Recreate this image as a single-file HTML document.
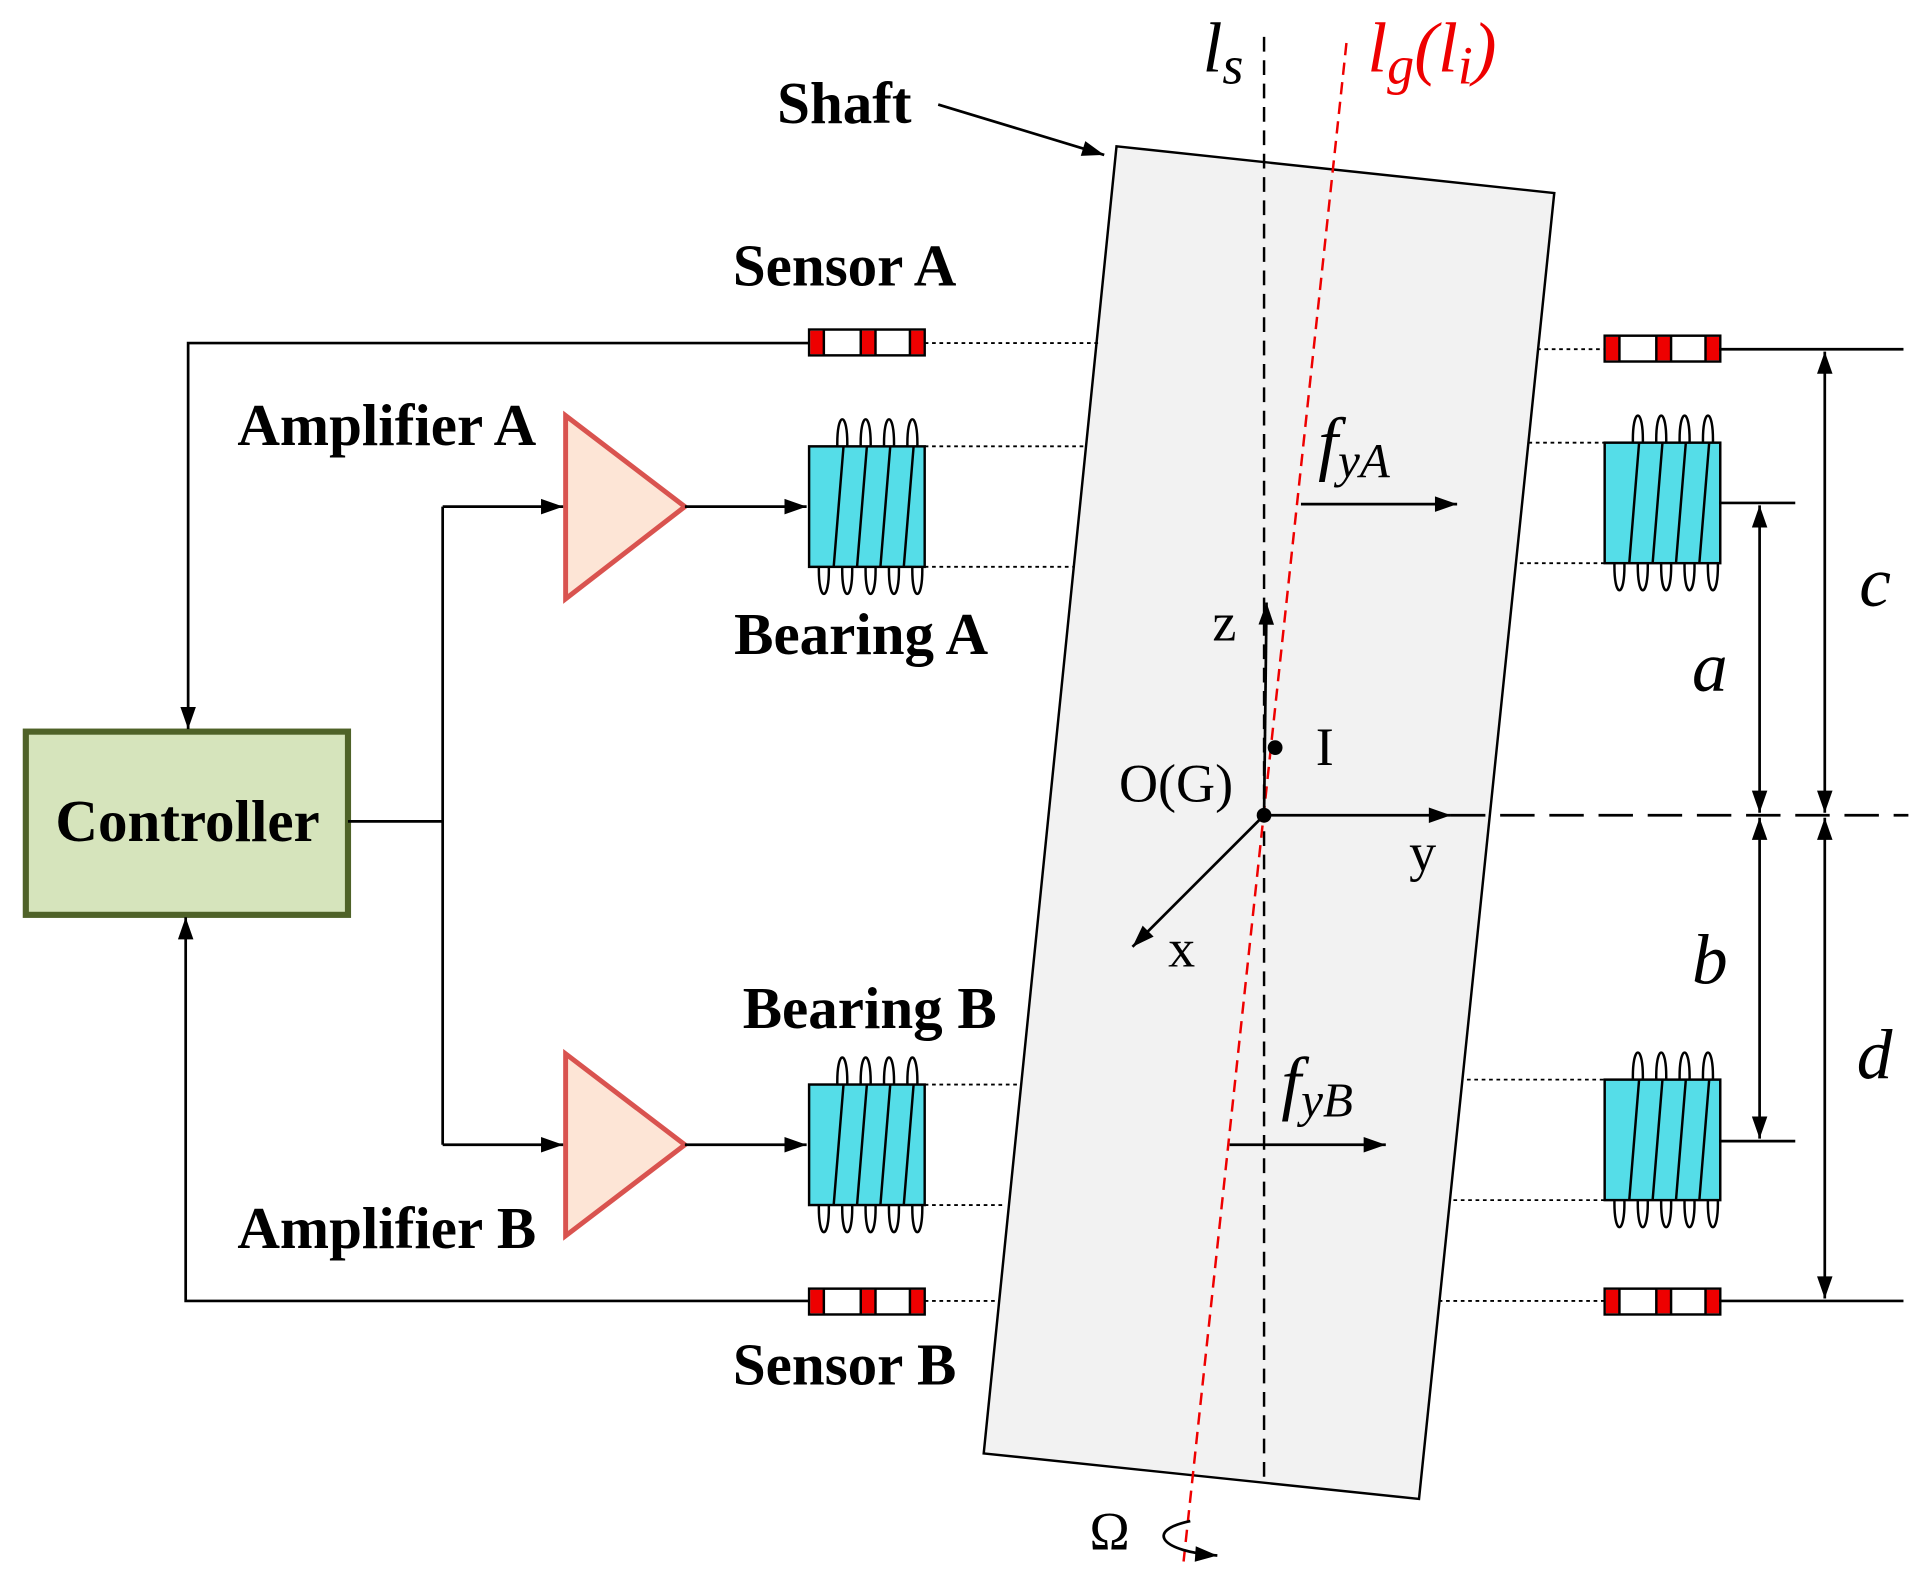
<!DOCTYPE html>
<html><head><meta charset="utf-8"><style>html,body{margin:0;padding:0;background:#fff}svg{display:block}</style></head>
<body>
<svg width="1917" height="1577" viewBox="0 0 1559 1282.5" preserveAspectRatio="none" xmlns="http://www.w3.org/2000/svg" font-family="Liberation Serif, serif">
<defs>
<marker id="b" viewBox="0 0 10 10" refX="10" refY="5" markerWidth="30" markerHeight="18" markerUnits="userSpaceOnUse" orient="auto-start-reverse"><path d="M0,1.5 L10,5 L0,8.5 z" fill="#000"/></marker>
<g id="sensor"><rect x="0" y="0" width="94" height="21" fill="#fff" stroke="#000" stroke-width="2"/><rect x="1" y="1" width="11" height="19" fill="#e00"/><rect x="42" y="1" width="12" height="19" fill="#e00"/><rect x="82" y="1" width="11" height="19" fill="#e00"/><line x1="12" y1="0" x2="12" y2="21" stroke="#000" stroke-width="2"/><line x1="42" y1="0" x2="42" y2="21" stroke="#000" stroke-width="2"/><line x1="54" y1="0" x2="54" y2="21" stroke="#000" stroke-width="2"/><line x1="82" y1="0" x2="82" y2="21" stroke="#000" stroke-width="2"/></g>
<g id="bear" fill="none" stroke="#000" stroke-width="2">
<path d="M23,2 C22,-30 32,-30 31,2 M42,2 C41,-30 51,-30 50,2 M61,2 C60,-30 70,-30 69,2 M80,2 C79,-30 89,-30 88,2"/>
<path d="M8,96 C7,128 17,128 16,96 M27,96 C26,128 36,128 35,96 M46,96 C45,128 55,128 54,96 M65,96 C64,128 74,128 73,96 M84,96 C83,128 93,128 92,96"/>
<rect x="0" y="0" width="94" height="98" fill="#55dde8"/>
<path d="M28,0 L20,98 M47,0 L39,98 M66,0 L58,98 M85,0 L77,98"/>
</g>
</defs>
<polygon points="908,119 1264,157 1154,1219 800,1182" fill="#f2f2f2" stroke="#000" stroke-width="2"/>
<line x1="1028" y1="30" x2="1028" y2="1205" stroke="#000" stroke-width="2" stroke-dasharray="12,7"/>
<line x1="1095" y1="35" x2="962" y2="1275" stroke="#e00" stroke-width="2" stroke-dasharray="10,6"/>
<g stroke="#000" stroke-width="1.5" stroke-dasharray="3,3">
<line x1="752" y1="279" x2="893" y2="279"/><line x1="1250" y1="284" x2="1305" y2="284"/>
<line x1="752" y1="363" x2="882" y2="363"/><line x1="752" y1="461" x2="873" y2="461"/>
<line x1="1243" y1="360" x2="1305" y2="360"/><line x1="1236" y1="458" x2="1305" y2="458"/>
<line x1="752" y1="882" x2="828" y2="882"/><line x1="752" y1="980" x2="818" y2="980"/>
<line x1="1193" y1="878" x2="1305" y2="878"/><line x1="1182" y1="976" x2="1305" y2="976"/>
<line x1="752" y1="1058" x2="810" y2="1058"/><line x1="1170" y1="1058" x2="1305" y2="1058"/>
</g>
<use href="#sensor" x="658" y="268"/><use href="#sensor" x="1305" y="273"/>
<use href="#sensor" x="658" y="1048"/><use href="#sensor" x="1305" y="1048"/>
<use href="#bear" x="658" y="363"/><use href="#bear" x="1305" y="360"/>
<use href="#bear" x="658" y="882"/><use href="#bear" x="1305" y="878"/>
<polygon points="460,338 460,487 557,412" fill="#fde5d6" stroke="#d9534f" stroke-width="4"/>
<polygon points="460,857 460,1005 557,931" fill="#fde5d6" stroke="#d9534f" stroke-width="4"/>
<rect x="21" y="595" width="262" height="149" fill="#d6e4bc" stroke="#4f6228" stroke-width="5"/>
<g stroke="#000" stroke-width="2.2" fill="none">
<path d="M283,668 H360"/><path d="M360,412 V931"/>
<path d="M360,412 H458" marker-end="url(#b)"/><path d="M360,931 H458" marker-end="url(#b)"/>
<path d="M557,412 H656" marker-end="url(#b)"/><path d="M557,931 H656" marker-end="url(#b)"/>
<path d="M658,279 H153 V593" marker-end="url(#b)"/>
<path d="M658,1058 H151 V746" marker-end="url(#b)"/>
<path d="M1398,284 H1548 M1398,1058 H1548 M1398,409 H1460 M1398,928 H1460"/>
<path d="M1180,663 H1552" stroke-dasharray="28,12"/>
<path d="M1484,286 V661" marker-start="url(#b)" marker-end="url(#b)"/>
<path d="M1484,665 V1056" marker-start="url(#b)" marker-end="url(#b)"/>
<path d="M1431,411 V661" marker-start="url(#b)" marker-end="url(#b)"/>
<path d="M1431,665 V926" marker-start="url(#b)" marker-end="url(#b)"/>
<path d="M1028,663 H1180" marker-end="url(#b)"/>
<path d="M1028,663 L1030,490" marker-end="url(#b)"/>
<path d="M1028,663 L921,770" marker-end="url(#b)"/>
<path d="M1058,410 H1185" marker-end="url(#b)"/>
<path d="M1000,931 H1127" marker-end="url(#b)"/>
<path d="M763,85 L898,126" marker-end="url(#b)"/>
<path d="M968,1237 C930,1245 945,1262 990,1265" marker-end="url(#b)"/>
</g>
<circle cx="1028" cy="663" r="6" fill="#000"/><circle cx="1037" cy="608" r="6" fill="#000"/>
<g font-weight="bold" font-size="48" fill="#000">
<text x="632" y="100">Shaft</text>
<text x="596" y="232">Sensor A</text>
<text x="193" y="362">Amplifier A</text>
<text x="597" y="532">Bearing A</text>
<text x="45" y="684">Controller</text>
<text x="604" y="836">Bearing B</text>
<text x="193" y="1015">Amplifier B</text>
<text x="596" y="1126">Sensor B</text>
</g>
<g font-size="44" fill="#000">
<text x="986" y="521">z</text>
<text x="1070" y="622">I</text>
<text x="910" y="652">O(G)</text>
<text x="1146" y="708">y</text>
<text x="950" y="786">x</text>
<text x="886" y="1260">Ω</text>
</g>
<g font-style="italic" font-size="58" fill="#000">
<text x="978" y="58">l<tspan font-size="44" dy="10">s</tspan></text>
<text x="1072" y="380">f<tspan font-size="40" dy="8">yA</tspan></text>
<text x="1042" y="900">f<tspan font-size="40" dy="8">yB</tspan></text>
<text x="1512" y="493">c</text>
<text x="1376" y="562">a</text>
<text x="1376" y="800">b</text>
<text x="1510" y="877">d</text>
<text x="1112" y="58" fill="#e00">l<tspan font-size="44" dy="10">g</tspan><tspan dy="-10">(l</tspan><tspan font-size="44" dy="10">i</tspan><tspan dy="-10">)</tspan></text>
</g>
</svg>
</body></html>
